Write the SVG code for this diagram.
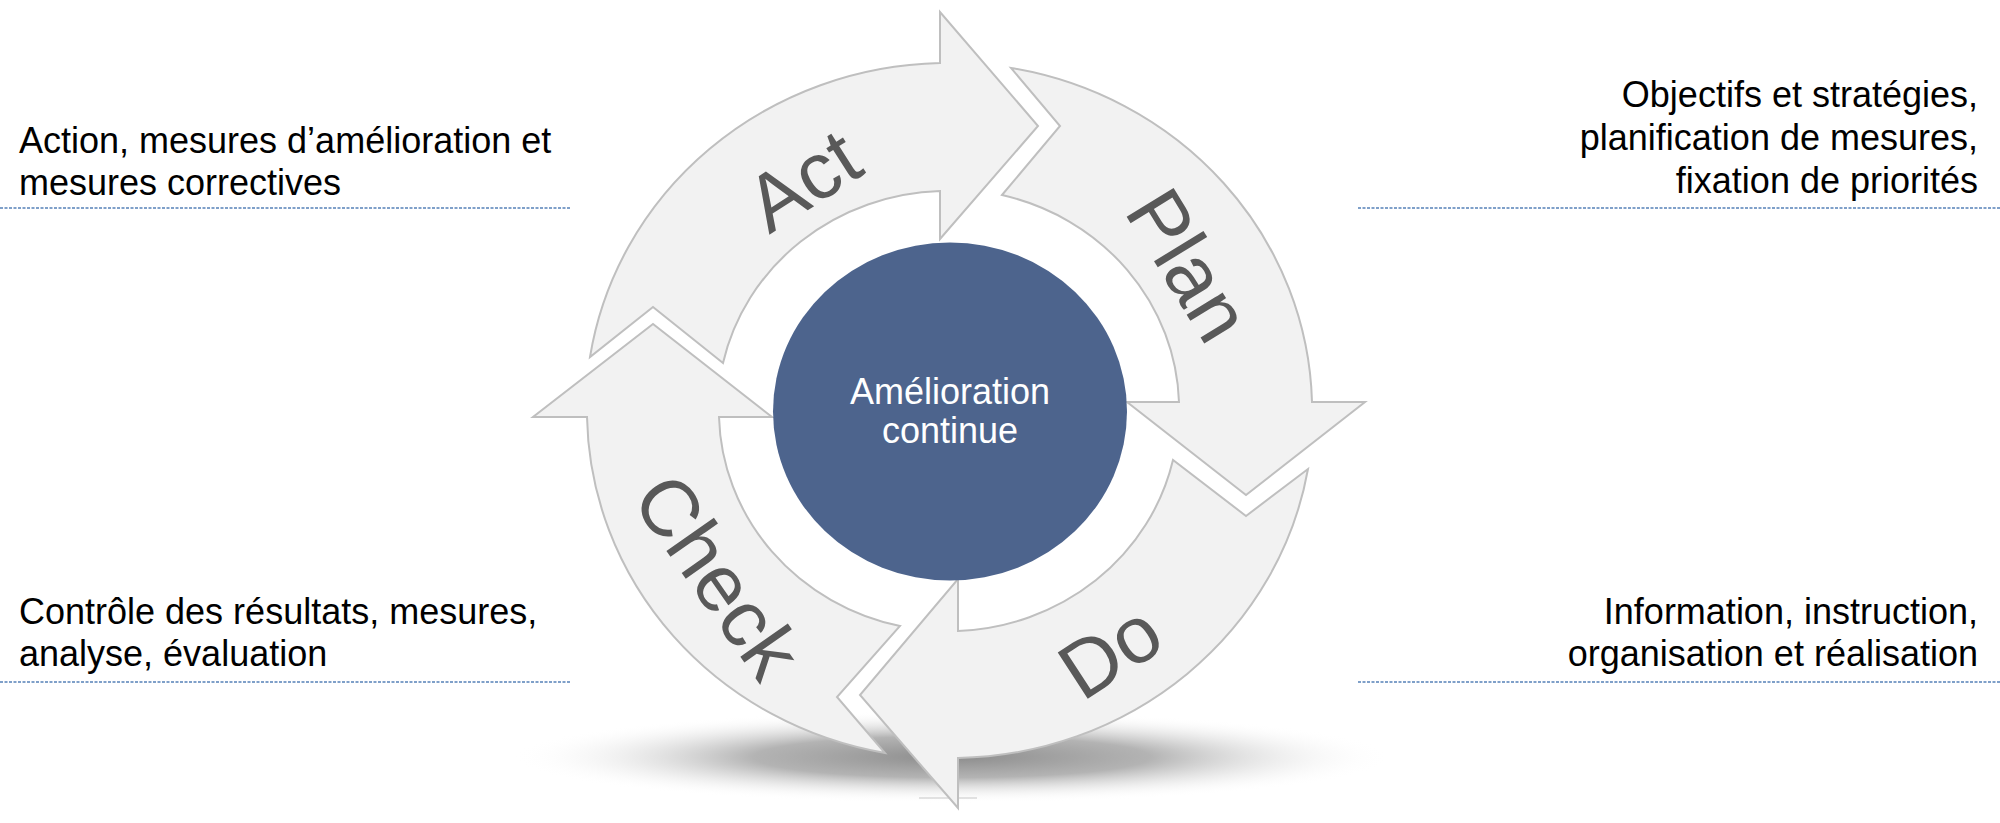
<svg xmlns="http://www.w3.org/2000/svg" width="2000" height="823" viewBox="0 0 2000 823">
  <defs>
    <radialGradient id="shadowGrad" cx="0.5" cy="0.5" r="0.5">
      <stop offset="0" stop-color="#8c8c8c" stop-opacity="1"/>
      <stop offset="0.45" stop-color="#a6a6a6" stop-opacity="0.85"/>
      <stop offset="1" stop-color="#ffffff" stop-opacity="0"/>
    </radialGradient>
    <style>
      .arrow { fill: #f2f2f2; stroke: #bfbfbf; stroke-width: 2; stroke-linejoin: miter; }
      .label { font-family: "Liberation Sans", Arial, sans-serif; font-size: 80px; fill: #595959; text-anchor: middle; }
      .side { font-family: "Liberation Sans", Arial, sans-serif; font-size: 36px; fill: #000000; }
      .center-text { font-family: "Liberation Sans", Arial, sans-serif; font-size: 36px; fill: #ffffff; text-anchor: middle; }
      .sep { stroke: #5581b8; stroke-width: 1.5; stroke-dasharray: 3 1.5; fill: none; }
    </style>
  </defs>
  <rect x="0" y="0" width="2000" height="823" fill="#ffffff"/>

  <!-- shadow -->
  <g id="shadow">
    <ellipse cx="952" cy="757" rx="440" ry="46" fill="url(#shadowGrad)"/>
    <line x1="919" y1="798" x2="977" y2="798" stroke="#d9d9d9" stroke-width="1.5"/>
  </g>

  <g id="node-act">
    <path class="arrow" d="M 590,357 A 362.5 348 0 0 1 940,63 L 940,12 L 1038,126 L 940,239 L 940,191 A 230 220 0 0 0 723,363 L 653,307 Z"/>
    <text class="label" transform="translate(803,180) rotate(-32.5)" y="28">Act</text>
  </g>

  <g id="node-plan">
    <path class="arrow" d="M 1011,68 A 362.5 348 0 0 1 1312,402 L 1365,402 L 1246,495 L 1127,402 L 1179,402 A 230 220 0 0 0 1002,195 L 1060,126 Z"/>
    <text class="label" transform="translate(1189,265) rotate(58.5)" y="28">Plan</text>
  </g>

  <g id="node-do">
    <path class="arrow" d="M 1308,469 A 362.5 348 0 0 1 958,758 L 958,808 L 860,695 L 958,579 L 958,631 A 230 220 0 0 0 1173,460 L 1246,516 Z"/>
    <text class="label" transform="translate(1110,651) rotate(-33)" y="28">Do</text>
  </g>

  <g id="node-check">
    <path class="arrow" d="M 885,753 A 362.5 348 0 0 1 587,417 L 533,417 L 653,324 L 772,417 L 719,417 A 230 220 0 0 0 900,626 L 837,697 Z"/>
    <text class="label" transform="translate(718,576) rotate(55)" y="28">Check</text>
  </g>

  <g id="node-center">
    <ellipse cx="950" cy="411.5" rx="177" ry="169" fill="#4d648d"/>
    <text class="center-text" x="950" y="404">Amélioration</text>
    <text class="center-text" x="950" y="443">continue</text>
  </g>

  <g id="connectors">
    <line class="sep" x1="0" y1="208" x2="570" y2="208"/>
    <line class="sep" x1="1358" y1="208" x2="2000" y2="208"/>
    <line class="sep" x1="0" y1="682" x2="570" y2="682"/>
    <line class="sep" x1="1358" y1="682" x2="2000" y2="682"/>
  </g>

  <g id="text-act">
    <text class="side" x="19" y="153">Action, mesures d’amélioration et</text>
    <text class="side" x="19" y="195">mesures correctives</text>
  </g>
  <g id="text-plan">
    <text class="side" x="1978" y="107" text-anchor="end">Objectifs et stratégies,</text>
    <text class="side" x="1978" y="150" text-anchor="end">planification de mesures,</text>
    <text class="side" x="1978" y="193" text-anchor="end">fixation de priorités</text>
  </g>
  <g id="text-check">
    <text class="side" x="19" y="624">Contrôle des résultats, mesures,</text>
    <text class="side" x="19" y="666">analyse, évaluation</text>
  </g>
  <g id="text-do">
    <text class="side" x="1978" y="624" text-anchor="end">Information, instruction,</text>
    <text class="side" x="1978" y="666" text-anchor="end">organisation et réalisation</text>
  </g>
</svg>
